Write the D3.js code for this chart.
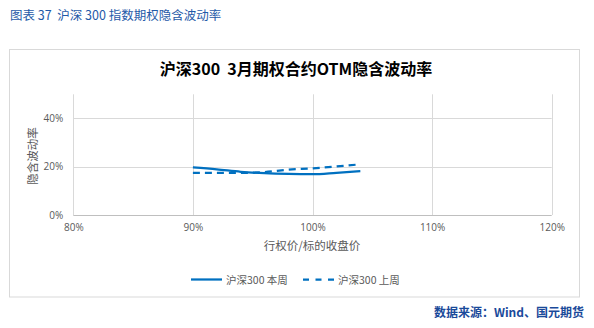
<!DOCTYPE html>
<html><head><meta charset="utf-8">
<script src="https://cdn.jsdelivr.net/npm/d3@7"></script>
<style>
body{margin:0;background:#fff;}
svg text{font-family:"Open Sans","Noto Sans CJK SC",sans-serif;white-space:pre;}
</style></head>
<body>
<svg id="c" width="594" height="328"></svg>
<script>
const strikes = [90, 92, 94, 96, 98, 100, 102, 104];
const thisWeek = [19.7, 18.9, 17.9, 17.3, 17.0, 16.9, 17.5, 18.2];
const lastWeek = [17.5, 17.5, 17.4, 17.8, 18.8, 19.3, 20.1, 21.0];
const xTicks = [80, 90, 100, 110, 120];
const yTicks = [0, 20, 40];
const seriesNames = ["沪深300 本周", "沪深300 上周"];

const svg = d3.select("#c");
const blue = "#0070c0";
const x = d3.scaleLinear().domain([80, 120]).range([73.3, 551.7]);
const y = d3.scaleLinear().domain([0, 50]).range([215, 94.3]);

// header & footer
svg.append("text").attr("x", 10).attr("y", 20).attr("fill", "#1f5aa8")
  .attr("font-size", 12.5).style("font-family", "'Noto Sans CJK SC',sans-serif")
  .text("图表 37  沪深 300 指数期权隐含波动率");
svg.append("text").attr("x", 584).attr("y", 317).attr("text-anchor", "end").attr("fill", "#1a4a9a")
  .attr("font-size", 12).attr("font-weight", "bold").style("font-family", "'Noto Sans CJK SC',sans-serif")
  .text("数据来源：Wind、国元期货");

// chart box
svg.append("rect").attr("x", 9.5).attr("y", 49.5).attr("width", 570).attr("height", 247.5)
  .attr("fill", "none").attr("stroke", "#d9d9d9").attr("stroke-width", 1);

svg.append("text").attr("x", 296).attr("y", 75).attr("text-anchor", "middle")
  .attr("font-size", 16).attr("font-weight", "bold").attr("fill", "#000")
  .style("font-family", "'Noto Sans CJK SC',sans-serif")
  .text("沪深300  3月期权合约OTM隐含波动率");

// grid
const g = svg.append("g");
g.selectAll(".hg").data(yTicks.filter(d => d > 0)).enter().append("line")
  .attr("x1", x(80)).attr("x2", x(120)).attr("y1", d => Math.round(y(d)) + 0.5).attr("y2", d => Math.round(y(d)) + 0.5)
  .attr("stroke", "#d9d9d9");
g.selectAll(".vg").data(xTicks).enter().append("line")
  .attr("y1", y(50)).attr("y2", y(0)).attr("x1", d => Math.round(x(d)) + 0.5).attr("x2", d => Math.round(x(d)) + 0.5)
  .attr("stroke", "#d9d9d9");
g.append("line").attr("x1", x(80)).attr("x2", x(120)).attr("y1", Math.round(y(0)) + 0.5).attr("y2", Math.round(y(0)) + 0.5)
  .attr("stroke", "#bfbfbf");

// axes
const xAxis = d3.axisBottom(x).tickValues(xTicks).tickSize(0).tickPadding(9).tickFormat(d => d + "%");
const ya = d3.axisLeft(y).tickValues(yTicks).tickSize(0).tickPadding(10).tickFormat(d => d + "%");
const gx = svg.append("g").attr("transform", `translate(0,${y(0)})`).call(xAxis);
const gy = svg.append("g").attr("transform", `translate(${x(80)},0)`).call(ya);
[gx, gy].forEach(a => {
  a.select(".domain").remove();
  a.selectAll("text").attr("fill", "#595959").attr("font-size", 10).style("font-family", "'Open Sans',sans-serif");
});

svg.append("text").attr("x", 312).attr("y", 250).attr("text-anchor", "middle")
  .attr("font-size", 11.5).attr("fill", "#595959").style("font-family", "'Noto Sans CJK SC',sans-serif")
  .text("行权价/标的收盘价");
svg.append("text").attr("transform", "translate(37,156) rotate(-90)").attr("text-anchor", "middle")
  .attr("font-size", 11.5).attr("fill", "#595959").style("font-family", "'Noto Sans CJK SC',sans-serif")
  .text("隐含波动率");

// lines
const line = d3.line().x(d => x(d[0])).y(d => y(d[1])).curve(d3.curveMonotoneX);
svg.append("path").datum(strikes.map((s, i) => [s, thisWeek[i]]))
  .attr("d", line).attr("fill", "none").attr("stroke", blue).attr("stroke-width", 2.25);
svg.append("path").datum(strikes.map((s, i) => [s, lastWeek[i]]))
  .attr("d", line).attr("fill", "none").attr("stroke", blue).attr("stroke-width", 2.25)
  .attr("stroke-dasharray", "7,5");

// legend
const lg = svg.append("g");
const items = [{x: 191, dash: null}, {x: 303, dash: "6,6.5"}];
items.forEach((it, i) => {
  lg.append("line").attr("x1", it.x).attr("x2", it.x + 31).attr("y1", 279.5).attr("y2", 279.5)
    .attr("stroke", blue).attr("stroke-width", 2.25).attr("stroke-dasharray", it.dash);
  lg.append("text").attr("x", it.x + 35).attr("y", 283.5).attr("font-size", 10.5).attr("fill", "#595959")
    .style("font-family", "'Noto Sans CJK SC',sans-serif").text(seriesNames[i]);
});
</script>
</body></html>
